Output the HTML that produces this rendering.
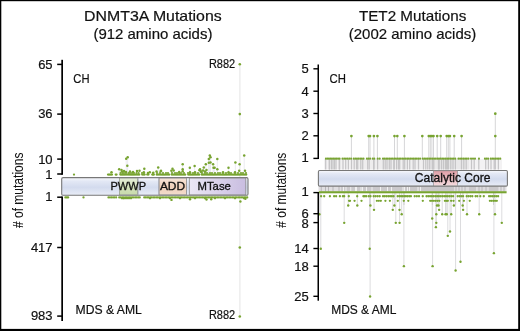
<!DOCTYPE html>
<html><head><meta charset="utf-8"><style>html,body{margin:0;padding:0;background:#fff;overflow:hidden}svg{display:block} text{stroke:#111;stroke-width:0.2px} .dom text{stroke-width:0.32px}</style></head>
<body><svg width="520" height="331" viewBox="0 0 520 331" font-family='"Liberation Sans", sans-serif' fill="#111">
<defs>
<linearGradient id="gb" x1="0" y1="0" x2="0" y2="1">
 <stop offset="0" stop-color="#f9fafd"/><stop offset="0.2" stop-color="#e3e8f5"/>
 <stop offset="0.55" stop-color="#d3dbee"/><stop offset="1" stop-color="#e9edf7"/>
</linearGradient>
<linearGradient id="gg" x1="0" y1="0" x2="0" y2="1">
 <stop offset="0" stop-color="#e6eed9"/><stop offset="0.5" stop-color="#d2e1bb"/><stop offset="1" stop-color="#c9dbac"/>
</linearGradient>
<linearGradient id="go" x1="0" y1="0" x2="0" y2="1">
 <stop offset="0" stop-color="#f7e6da"/><stop offset="0.5" stop-color="#efd0ba"/><stop offset="1" stop-color="#f3dccc"/>
</linearGradient>
<linearGradient id="gw" x1="0" y1="0" x2="0" y2="1">
 <stop offset="0" stop-color="#fbfcfe"/><stop offset="0.5" stop-color="#e6ebf6"/><stop offset="1" stop-color="#eef1f9"/>
</linearGradient>
<linearGradient id="gp" x1="0" y1="0" x2="1" y2="0">
 <stop offset="0" stop-color="#ebe7f5"/><stop offset="1" stop-color="#c9bde0"/>
</linearGradient>
<linearGradient id="gr" x1="0" y1="0" x2="0" y2="1">
 <stop offset="0" stop-color="#df9fa6"/><stop offset="0.45" stop-color="#eab9be"/><stop offset="1" stop-color="#f4dcdf"/>
</linearGradient>
</defs>
<rect x="0" y="0" width="520" height="331" fill="#fff"/>
<g><line x1="239.8" y1="64.3" x2="239.8" y2="316.5" stroke="#efefef" stroke-width="1.7"/><line x1="127.7" y1="157.3" x2="127.7" y2="174.6" stroke="#e9e9ef" stroke-width="0.9"/><line x1="126.2" y1="158.8" x2="126.2" y2="174.6" stroke="#e9e9ef" stroke-width="0.9"/><line x1="127.3" y1="165.8" x2="127.3" y2="174.6" stroke="#e9e9ef" stroke-width="0.9"/><line x1="119.2" y1="169.2" x2="119.2" y2="174.6" stroke="#e9e9ef" stroke-width="0.9"/><line x1="121.5" y1="170" x2="121.5" y2="174.6" stroke="#e9e9ef" stroke-width="0.9"/><line x1="144.3" y1="168.8" x2="144.3" y2="174.6" stroke="#e9e9ef" stroke-width="0.9"/><line x1="158.2" y1="167.5" x2="158.2" y2="174.6" stroke="#e9e9ef" stroke-width="0.9"/><line x1="139.5" y1="170.8" x2="139.5" y2="174.6" stroke="#e9e9ef" stroke-width="0.9"/><line x1="161" y1="170.8" x2="161" y2="174.6" stroke="#e9e9ef" stroke-width="0.9"/><line x1="172.5" y1="168.8" x2="172.5" y2="174.6" stroke="#e9e9ef" stroke-width="0.9"/><line x1="171.4" y1="170.8" x2="171.4" y2="174.6" stroke="#e9e9ef" stroke-width="0.9"/><line x1="173.7" y1="170.4" x2="173.7" y2="174.6" stroke="#e9e9ef" stroke-width="0.9"/><line x1="182.7" y1="164.2" x2="182.7" y2="174.6" stroke="#e9e9ef" stroke-width="0.9"/><line x1="182.7" y1="169.2" x2="182.7" y2="174.6" stroke="#e9e9ef" stroke-width="0.9"/><line x1="189.8" y1="167.7" x2="189.8" y2="174.6" stroke="#e9e9ef" stroke-width="0.9"/><line x1="194.6" y1="165.9" x2="194.6" y2="174.6" stroke="#e9e9ef" stroke-width="0.9"/><line x1="200" y1="169.2" x2="200" y2="174.6" stroke="#e9e9ef" stroke-width="0.9"/><line x1="203.8" y1="167.5" x2="203.8" y2="174.6" stroke="#e9e9ef" stroke-width="0.9"/><line x1="205.8" y1="164.2" x2="205.8" y2="174.6" stroke="#e9e9ef" stroke-width="0.9"/><line x1="208.8" y1="162.7" x2="208.8" y2="174.6" stroke="#e9e9ef" stroke-width="0.9"/><line x1="208.8" y1="159.1" x2="208.8" y2="174.6" stroke="#e9e9ef" stroke-width="0.9"/><line x1="209.8" y1="155.6" x2="209.8" y2="174.6" stroke="#e9e9ef" stroke-width="0.9"/><line x1="210.5" y1="157.2" x2="210.5" y2="174.6" stroke="#e9e9ef" stroke-width="0.9"/><line x1="210.5" y1="162.5" x2="210.5" y2="174.6" stroke="#e9e9ef" stroke-width="0.9"/><line x1="213.1" y1="164.2" x2="213.1" y2="174.6" stroke="#e9e9ef" stroke-width="0.9"/><line x1="213.5" y1="167.7" x2="213.5" y2="174.6" stroke="#e9e9ef" stroke-width="0.9"/><line x1="214.6" y1="167.7" x2="214.6" y2="174.6" stroke="#e9e9ef" stroke-width="0.9"/><line x1="217.3" y1="159.1" x2="217.3" y2="174.6" stroke="#e9e9ef" stroke-width="0.9"/><line x1="217.3" y1="169.2" x2="217.3" y2="174.6" stroke="#e9e9ef" stroke-width="0.9"/><line x1="228.5" y1="167.7" x2="228.5" y2="174.6" stroke="#e9e9ef" stroke-width="0.9"/><line x1="235.4" y1="162.5" x2="235.4" y2="174.6" stroke="#e9e9ef" stroke-width="0.9"/><line x1="239.6" y1="164.2" x2="239.6" y2="174.6" stroke="#e9e9ef" stroke-width="0.9"/><line x1="244.2" y1="155.6" x2="244.2" y2="174.6" stroke="#e9e9ef" stroke-width="0.9"/><line x1="239.2" y1="170.8" x2="239.2" y2="174.6" stroke="#e9e9ef" stroke-width="0.9"/><line x1="245" y1="170.8" x2="245" y2="174.6" stroke="#e9e9ef" stroke-width="0.9"/><line x1="199.5" y1="170.2" x2="199.5" y2="174.6" stroke="#e9e9ef" stroke-width="0.9"/><line x1="203" y1="170.5" x2="203" y2="174.6" stroke="#e9e9ef" stroke-width="0.9"/><line x1="206.5" y1="170" x2="206.5" y2="174.6" stroke="#e9e9ef" stroke-width="0.9"/><rect x="324" y="159" width="33" height="10.5" fill="#f3f2f3"/><rect x="357" y="159" width="43" height="10.5" fill="#eeedee"/><rect x="400" y="159" width="30" height="10.5" fill="#f1f0f1"/><rect x="430" y="159" width="39" height="10.5" fill="#e9e8e9"/><rect x="469" y="159" width="33" height="10.5" fill="#f3f2f3"/><line x1="325.7" y1="159" x2="325.7" y2="169.5" stroke="#c6c5c7" stroke-width="1.25"/><line x1="329.2" y1="159" x2="329.2" y2="169.5" stroke="#c6c5c7" stroke-width="1.25"/><line x1="329.6" y1="159" x2="329.6" y2="169.5" stroke="#c6c5c7" stroke-width="1.25"/><line x1="331.5" y1="159" x2="331.5" y2="169.5" stroke="#c6c5c7" stroke-width="1.25"/><line x1="333" y1="159" x2="333" y2="169.5" stroke="#c6c5c7" stroke-width="1.25"/><line x1="334.5" y1="159" x2="334.5" y2="169.5" stroke="#c6c5c7" stroke-width="1.25"/><line x1="336" y1="159" x2="336" y2="169.5" stroke="#c6c5c7" stroke-width="1.25"/><line x1="339.2" y1="159" x2="339.2" y2="169.5" stroke="#c6c5c7" stroke-width="1.25"/><line x1="339.6" y1="159" x2="339.6" y2="169.5" stroke="#c6c5c7" stroke-width="1.25"/><line x1="343" y1="159" x2="343" y2="169.5" stroke="#c6c5c7" stroke-width="1.25"/><line x1="345.7" y1="159" x2="345.7" y2="169.5" stroke="#c6c5c7" stroke-width="1.25"/><line x1="348.4" y1="159" x2="348.4" y2="169.5" stroke="#c6c5c7" stroke-width="1.25"/><line x1="351.5" y1="159" x2="351.5" y2="169.5" stroke="#c6c5c7" stroke-width="1.25"/><line x1="354.2" y1="159" x2="354.2" y2="169.5" stroke="#c6c5c7" stroke-width="1.25"/><line x1="356.5" y1="159" x2="356.5" y2="169.5" stroke="#c6c5c7" stroke-width="1.25"/><line x1="357.7" y1="159" x2="357.7" y2="169.5" stroke="#c6c5c7" stroke-width="1.25"/><line x1="360.8" y1="159" x2="360.8" y2="169.5" stroke="#c6c5c7" stroke-width="1.25"/><line x1="362.7" y1="159" x2="362.7" y2="169.5" stroke="#c6c5c7" stroke-width="1.25"/><line x1="367.7" y1="159" x2="367.7" y2="169.5" stroke="#c6c5c7" stroke-width="1.25"/><line x1="369.2" y1="159" x2="369.2" y2="169.5" stroke="#c6c5c7" stroke-width="1.25"/><line x1="373.6" y1="159" x2="373.6" y2="169.5" stroke="#c6c5c7" stroke-width="1.25"/><line x1="374" y1="159" x2="374" y2="169.5" stroke="#c6c5c7" stroke-width="1.25"/><line x1="377.6" y1="159" x2="377.6" y2="169.5" stroke="#c6c5c7" stroke-width="1.25"/><line x1="383.3" y1="159" x2="383.3" y2="169.5" stroke="#c6c5c7" stroke-width="1.25"/><line x1="385.2" y1="159" x2="385.2" y2="169.5" stroke="#c6c5c7" stroke-width="1.25"/><line x1="387" y1="159" x2="387" y2="169.5" stroke="#c6c5c7" stroke-width="1.25"/><line x1="389.3" y1="159" x2="389.3" y2="169.5" stroke="#c6c5c7" stroke-width="1.25"/><line x1="391" y1="159" x2="391" y2="169.5" stroke="#c6c5c7" stroke-width="1.25"/><line x1="393.8" y1="159" x2="393.8" y2="169.5" stroke="#c6c5c7" stroke-width="1.25"/><line x1="394.3" y1="159" x2="394.3" y2="169.5" stroke="#c6c5c7" stroke-width="1.25"/><line x1="396.6" y1="159" x2="396.6" y2="169.5" stroke="#c6c5c7" stroke-width="1.25"/><line x1="398.5" y1="159" x2="398.5" y2="169.5" stroke="#c6c5c7" stroke-width="1.25"/><line x1="399.7" y1="159" x2="399.7" y2="169.5" stroke="#c6c5c7" stroke-width="1.25"/><line x1="403.2" y1="159" x2="403.2" y2="169.5" stroke="#c6c5c7" stroke-width="1.25"/><line x1="404.7" y1="159" x2="404.7" y2="169.5" stroke="#c6c5c7" stroke-width="1.25"/><line x1="407.4" y1="159" x2="407.4" y2="169.5" stroke="#c6c5c7" stroke-width="1.25"/><line x1="409.7" y1="159" x2="409.7" y2="169.5" stroke="#c6c5c7" stroke-width="1.25"/><line x1="413.2" y1="159" x2="413.2" y2="169.5" stroke="#c6c5c7" stroke-width="1.25"/><line x1="415" y1="159" x2="415" y2="169.5" stroke="#c6c5c7" stroke-width="1.25"/><line x1="418.5" y1="159" x2="418.5" y2="169.5" stroke="#c6c5c7" stroke-width="1.25"/><line x1="423.5" y1="159" x2="423.5" y2="169.5" stroke="#c6c5c7" stroke-width="1.25"/><line x1="425.8" y1="159" x2="425.8" y2="169.5" stroke="#c6c5c7" stroke-width="1.25"/><line x1="427.8" y1="159" x2="427.8" y2="169.5" stroke="#c6c5c7" stroke-width="1.25"/><line x1="429.7" y1="159" x2="429.7" y2="169.5" stroke="#c6c5c7" stroke-width="1.25"/><line x1="432.3" y1="159" x2="432.3" y2="169.5" stroke="#c6c5c7" stroke-width="1.25"/><line x1="433" y1="159" x2="433" y2="169.5" stroke="#c6c5c7" stroke-width="1.25"/><line x1="433.8" y1="159" x2="433.8" y2="169.5" stroke="#c6c5c7" stroke-width="1.25"/><line x1="438.5" y1="159" x2="438.5" y2="169.5" stroke="#c6c5c7" stroke-width="1.25"/><line x1="439.2" y1="159" x2="439.2" y2="169.5" stroke="#c6c5c7" stroke-width="1.25"/><line x1="441.5" y1="159" x2="441.5" y2="169.5" stroke="#c6c5c7" stroke-width="1.25"/><line x1="443.5" y1="159" x2="443.5" y2="169.5" stroke="#c6c5c7" stroke-width="1.25"/><line x1="445.5" y1="159" x2="445.5" y2="169.5" stroke="#c6c5c7" stroke-width="1.25"/><line x1="446.5" y1="159" x2="446.5" y2="169.5" stroke="#c6c5c7" stroke-width="1.25"/><line x1="447.5" y1="159" x2="447.5" y2="169.5" stroke="#c6c5c7" stroke-width="1.25"/><line x1="448.5" y1="159" x2="448.5" y2="169.5" stroke="#c6c5c7" stroke-width="1.25"/><line x1="450.8" y1="159" x2="450.8" y2="169.5" stroke="#c6c5c7" stroke-width="1.25"/><line x1="453" y1="159" x2="453" y2="169.5" stroke="#c6c5c7" stroke-width="1.25"/><line x1="455.4" y1="159" x2="455.4" y2="169.5" stroke="#c6c5c7" stroke-width="1.25"/><line x1="461.5" y1="159" x2="461.5" y2="169.5" stroke="#c6c5c7" stroke-width="1.25"/><line x1="463.8" y1="159" x2="463.8" y2="169.5" stroke="#c6c5c7" stroke-width="1.25"/><line x1="466.2" y1="159" x2="466.2" y2="169.5" stroke="#c6c5c7" stroke-width="1.25"/><line x1="471.5" y1="159" x2="471.5" y2="169.5" stroke="#c6c5c7" stroke-width="1.25"/><line x1="474.2" y1="159" x2="474.2" y2="169.5" stroke="#c6c5c7" stroke-width="1.25"/><line x1="478.8" y1="159" x2="478.8" y2="169.5" stroke="#c6c5c7" stroke-width="1.25"/><line x1="485.7" y1="159" x2="485.7" y2="169.5" stroke="#c6c5c7" stroke-width="1.25"/><line x1="488.4" y1="159" x2="488.4" y2="169.5" stroke="#c6c5c7" stroke-width="1.25"/><line x1="491" y1="159" x2="491" y2="169.5" stroke="#c6c5c7" stroke-width="1.25"/><line x1="494.2" y1="159" x2="494.2" y2="169.5" stroke="#c6c5c7" stroke-width="1.25"/><line x1="495.3" y1="159" x2="495.3" y2="169.5" stroke="#c6c5c7" stroke-width="1.25"/><line x1="498.4" y1="159" x2="498.4" y2="169.5" stroke="#c6c5c7" stroke-width="1.25"/><line x1="351.4" y1="136.1" x2="351.4" y2="159" stroke="#d6d6d8" stroke-width="1"/><line x1="368.7" y1="136.1" x2="368.7" y2="159" stroke="#d6d6d8" stroke-width="1"/><line x1="370" y1="136.1" x2="370" y2="159" stroke="#d6d6d8" stroke-width="1"/><line x1="373.9" y1="136.1" x2="373.9" y2="159" stroke="#d6d6d8" stroke-width="1"/><line x1="377.4" y1="136.1" x2="377.4" y2="159" stroke="#d6d6d8" stroke-width="1"/><line x1="394.5" y1="136.1" x2="394.5" y2="159" stroke="#d6d6d8" stroke-width="1"/><line x1="397.3" y1="136.1" x2="397.3" y2="159" stroke="#d6d6d8" stroke-width="1"/><line x1="404.4" y1="136.1" x2="404.4" y2="159" stroke="#d6d6d8" stroke-width="1"/><line x1="422.3" y1="136.1" x2="422.3" y2="159" stroke="#d6d6d8" stroke-width="1"/><line x1="428.8" y1="136.1" x2="428.8" y2="159" stroke="#d6d6d8" stroke-width="1"/><line x1="430.3" y1="136.1" x2="430.3" y2="159" stroke="#d6d6d8" stroke-width="1"/><line x1="431.9" y1="136.1" x2="431.9" y2="159" stroke="#d6d6d8" stroke-width="1"/><line x1="433.5" y1="136.1" x2="433.5" y2="159" stroke="#d6d6d8" stroke-width="1"/><line x1="437.2" y1="136.1" x2="437.2" y2="159" stroke="#d6d6d8" stroke-width="1"/><line x1="440.7" y1="136.1" x2="440.7" y2="159" stroke="#d6d6d8" stroke-width="1"/><line x1="446.7" y1="136.1" x2="446.7" y2="159" stroke="#d6d6d8" stroke-width="1"/><line x1="448.3" y1="136.1" x2="448.3" y2="159" stroke="#d6d6d8" stroke-width="1"/><line x1="449.9" y1="136.1" x2="449.9" y2="159" stroke="#d6d6d8" stroke-width="1"/><line x1="454.2" y1="136.1" x2="454.2" y2="159" stroke="#d6d6d8" stroke-width="1"/><line x1="461.6" y1="136.1" x2="461.6" y2="159" stroke="#d6d6d8" stroke-width="1"/><line x1="495.3" y1="136.1" x2="495.3" y2="159" stroke="#d6d6d8" stroke-width="1"/><line x1="495.3" y1="113.65" x2="495.3" y2="136.1" stroke="#d6d6d8" stroke-width="1"/><rect x="318.5" y="186.4" width="25.5" height="4.900000000000006" fill="#e0dee1"/><rect x="344" y="186.4" width="56" height="4.900000000000006" fill="#cbc9cc"/><rect x="400" y="186.4" width="32" height="4.900000000000006" fill="#c9c7ca"/><rect x="432" y="186.4" width="22" height="4.900000000000006" fill="#c8c6c9"/><rect x="454" y="186.4" width="14.5" height="4.900000000000006" fill="#dddbde"/><rect x="468.5" y="186.4" width="8.0" height="4.900000000000006" fill="#cac8cb"/><rect x="476.5" y="186.4" width="11.899999999999977" height="4.900000000000006" fill="#dddbde"/><rect x="488.4" y="186.4" width="10.400000000000034" height="4.900000000000006" fill="#cac8cb"/><rect x="498.8" y="186.4" width="7.699999999999989" height="4.900000000000006" fill="#e2e0e3"/><line x1="321.25" y1="186.4" x2="321.25" y2="191.3" stroke="#b8b6b9" stroke-width="1"/><line x1="325.5" y1="186.4" x2="325.5" y2="191.3" stroke="#b8b6b9" stroke-width="1"/><line x1="328.5" y1="186.4" x2="328.5" y2="191.3" stroke="#b8b6b9" stroke-width="1"/><line x1="333" y1="186.4" x2="333" y2="191.3" stroke="#b8b6b9" stroke-width="1"/><line x1="339" y1="186.4" x2="339" y2="191.3" stroke="#b8b6b9" stroke-width="1"/><line x1="342" y1="186.4" x2="342" y2="191.3" stroke="#b8b6b9" stroke-width="1"/><line x1="456" y1="186.4" x2="456" y2="191.3" stroke="#b8b6b9" stroke-width="1"/><line x1="459" y1="186.4" x2="459" y2="191.3" stroke="#b8b6b9" stroke-width="1"/><line x1="462" y1="186.4" x2="462" y2="191.3" stroke="#b8b6b9" stroke-width="1"/><line x1="465" y1="186.4" x2="465" y2="191.3" stroke="#b8b6b9" stroke-width="1"/><line x1="479" y1="186.4" x2="479" y2="191.3" stroke="#b8b6b9" stroke-width="1"/><line x1="482" y1="186.4" x2="482" y2="191.3" stroke="#b8b6b9" stroke-width="1"/><line x1="486" y1="186.4" x2="486" y2="191.3" stroke="#b8b6b9" stroke-width="1"/><line x1="501" y1="186.4" x2="501" y2="191.3" stroke="#b8b6b9" stroke-width="1"/><line x1="504" y1="186.4" x2="504" y2="191.3" stroke="#b8b6b9" stroke-width="1"/><line x1="343.5" y1="186.4" x2="343.5" y2="191.3" stroke="#f4f4f4" stroke-width="0.9"/><line x1="346" y1="186.4" x2="346" y2="191.3" stroke="#f4f4f4" stroke-width="0.9"/><line x1="350.75" y1="186.4" x2="350.75" y2="191.3" stroke="#f4f4f4" stroke-width="0.9"/><line x1="355.5" y1="186.4" x2="355.5" y2="191.3" stroke="#f4f4f4" stroke-width="0.9"/><line x1="356.5" y1="186.4" x2="356.5" y2="191.3" stroke="#f4f4f4" stroke-width="0.9"/><line x1="361" y1="186.4" x2="361" y2="191.3" stroke="#f4f4f4" stroke-width="0.9"/><line x1="362.5" y1="186.4" x2="362.5" y2="191.3" stroke="#f4f4f4" stroke-width="0.9"/><line x1="366.5" y1="186.4" x2="366.5" y2="191.3" stroke="#f4f4f4" stroke-width="0.9"/><line x1="372" y1="186.4" x2="372" y2="191.3" stroke="#f4f4f4" stroke-width="0.9"/><line x1="380.5" y1="186.4" x2="380.5" y2="191.3" stroke="#f4f4f4" stroke-width="0.9"/><line x1="387.5" y1="186.4" x2="387.5" y2="191.3" stroke="#f4f4f4" stroke-width="0.9"/><line x1="391.5" y1="186.4" x2="391.5" y2="191.3" stroke="#f4f4f4" stroke-width="0.9"/><line x1="403" y1="186.4" x2="403" y2="191.3" stroke="#f4f4f4" stroke-width="0.9"/><line x1="404.5" y1="186.4" x2="404.5" y2="191.3" stroke="#f4f4f4" stroke-width="0.9"/><line x1="407.5" y1="186.4" x2="407.5" y2="191.3" stroke="#f4f4f4" stroke-width="0.9"/><line x1="409.5" y1="186.4" x2="409.5" y2="191.3" stroke="#f4f4f4" stroke-width="0.9"/><line x1="418" y1="186.4" x2="418" y2="191.3" stroke="#f4f4f4" stroke-width="0.9"/><line x1="420.5" y1="186.4" x2="420.5" y2="191.3" stroke="#f4f4f4" stroke-width="0.9"/><line x1="348.2" y1="193" x2="348.2" y2="205.51999999999998" stroke="#dcdcde" stroke-width="1"/><line x1="357.3" y1="193" x2="357.3" y2="205.51999999999998" stroke="#dcdcde" stroke-width="1"/><line x1="370.4" y1="193" x2="370.4" y2="205.51999999999998" stroke="#dcdcde" stroke-width="1"/><line x1="394.4" y1="193" x2="394.4" y2="205.51999999999998" stroke="#dcdcde" stroke-width="1"/><line x1="437" y1="193" x2="437" y2="205.51999999999998" stroke="#dcdcde" stroke-width="1"/><line x1="438.5" y1="193" x2="438.5" y2="205.51999999999998" stroke="#dcdcde" stroke-width="1"/><line x1="453.9" y1="193" x2="453.9" y2="205.51999999999998" stroke="#dcdcde" stroke-width="1"/><line x1="462.7" y1="193" x2="462.7" y2="205.51999999999998" stroke="#dcdcde" stroke-width="1"/><line x1="374" y1="193" x2="374" y2="209.85" stroke="#dcdcde" stroke-width="1"/><line x1="392.8" y1="193" x2="392.8" y2="209.85" stroke="#dcdcde" stroke-width="1"/><line x1="399.5" y1="193" x2="399.5" y2="209.85" stroke="#dcdcde" stroke-width="1"/><line x1="439.1" y1="193" x2="439.1" y2="209.85" stroke="#dcdcde" stroke-width="1"/><line x1="463.1" y1="193" x2="463.1" y2="209.85" stroke="#dcdcde" stroke-width="1"/><line x1="319.4" y1="193" x2="319.4" y2="214.17999999999998" stroke="#dcdcde" stroke-width="1"/><line x1="401.7" y1="193" x2="401.7" y2="214.17999999999998" stroke="#dcdcde" stroke-width="1"/><line x1="436.3" y1="193" x2="436.3" y2="214.17999999999998" stroke="#dcdcde" stroke-width="1"/><line x1="442.2" y1="193" x2="442.2" y2="214.17999999999998" stroke="#dcdcde" stroke-width="1"/><line x1="445.5" y1="193" x2="445.5" y2="214.17999999999998" stroke="#dcdcde" stroke-width="1"/><line x1="446.8" y1="193" x2="446.8" y2="214.17999999999998" stroke="#dcdcde" stroke-width="1"/><line x1="451.2" y1="193" x2="451.2" y2="214.17999999999998" stroke="#dcdcde" stroke-width="1"/><line x1="467" y1="193" x2="467" y2="214.17999999999998" stroke="#dcdcde" stroke-width="1"/><line x1="479.2" y1="193" x2="479.2" y2="214.17999999999998" stroke="#dcdcde" stroke-width="1"/><line x1="495" y1="193" x2="495" y2="214.17999999999998" stroke="#dcdcde" stroke-width="1"/><line x1="432.2" y1="193" x2="432.2" y2="218.51" stroke="#dcdcde" stroke-width="1"/><line x1="344.2" y1="193" x2="344.2" y2="222.83999999999997" stroke="#dcdcde" stroke-width="1"/><line x1="395.8" y1="193" x2="395.8" y2="222.83999999999997" stroke="#dcdcde" stroke-width="1"/><line x1="399.6" y1="193" x2="399.6" y2="222.83999999999997" stroke="#dcdcde" stroke-width="1"/><line x1="436.3" y1="193" x2="436.3" y2="222.83999999999997" stroke="#dcdcde" stroke-width="1"/><line x1="501.8" y1="193" x2="501.8" y2="222.83999999999997" stroke="#dcdcde" stroke-width="1"/><line x1="435.9" y1="193" x2="435.9" y2="227.17" stroke="#dcdcde" stroke-width="1"/><line x1="450" y1="193" x2="450" y2="231.5" stroke="#dcdcde" stroke-width="1"/><line x1="447.8" y1="193" x2="447.8" y2="235.82999999999998" stroke="#dcdcde" stroke-width="1"/><line x1="320.8" y1="193" x2="320.8" y2="248.82" stroke="#dcdcde" stroke-width="1"/><line x1="369.7" y1="193" x2="369.7" y2="248.82" stroke="#dcdcde" stroke-width="1"/><line x1="493.9" y1="193" x2="493.9" y2="253.14999999999998" stroke="#dcdcde" stroke-width="1"/><line x1="460.5" y1="193" x2="460.5" y2="261.81" stroke="#dcdcde" stroke-width="1"/><line x1="403.9" y1="193" x2="403.9" y2="266.14" stroke="#dcdcde" stroke-width="1"/><line x1="432.6" y1="193" x2="432.6" y2="266.14" stroke="#dcdcde" stroke-width="1"/><line x1="455.6" y1="193" x2="455.6" y2="270.46999999999997" stroke="#dcdcde" stroke-width="1"/><line x1="370.1" y1="193" x2="370.1" y2="296.45" stroke="#dcdcde" stroke-width="1"/><line x1="369.9" y1="193" x2="369.9" y2="205" stroke="#cfcfd1" stroke-width="1"/><line x1="404.0" y1="193" x2="404.0" y2="205" stroke="#cfcfd1" stroke-width="1"/><line x1="432.4" y1="193" x2="432.4" y2="205" stroke="#cfcfd1" stroke-width="1"/><line x1="455.6" y1="193" x2="455.6" y2="205" stroke="#cfcfd1" stroke-width="1"/><line x1="460.5" y1="193" x2="460.5" y2="205" stroke="#cfcfd1" stroke-width="1"/><line x1="493.5" y1="193" x2="493.5" y2="205" stroke="#cfcfd1" stroke-width="1"/><rect x="318.8" y="191.2" width="187.8" height="2.1" fill="#78a431"/></g>
<g><rect x="61.7" y="177.6" width="186.3" height="17.7" rx="1.4" fill="url(#gb)" stroke="#777" stroke-width="1.1"/><rect x="119.4" y="178.1" width="18.2" height="16.7" fill="url(#gg)" stroke="#8e968a" stroke-width="0.7"/><rect x="138.2" y="178.1" width="20.6" height="16.7" fill="url(#gb)" stroke="#a2a4b2" stroke-width="0.6"/><rect x="159.1" y="178.1" width="27.4" height="16.7" fill="url(#go)" stroke="#8a8a8a" stroke-width="0.8"/><rect x="189.3" y="178.1" width="56.5" height="16.7" fill="url(#gp)" stroke="#8a8a8a" stroke-width="0.8"/><rect x="318.4" y="170.5" width="189" height="15.6" rx="1.2" fill="url(#gb)" stroke="#777" stroke-width="1.1"/><rect x="433.6" y="170.8" width="23.8" height="15" fill="url(#gr)" stroke="#909090" stroke-width="0.7"/></g>
<g fill="#111" class="dom" style="filter:grayscale(1)"><text x="110.5" y="189.9" font-size="11.4" textLength="35.6" lengthAdjust="spacingAndGlyphs">PWWP</text><text x="159.9" y="190.3" font-size="11.4" textLength="25.2" lengthAdjust="spacingAndGlyphs">ADD</text><text x="197.5" y="190.4" font-size="11.4" textLength="33.4" lengthAdjust="spacingAndGlyphs">MTase</text><text x="414.8" y="181.8" font-size="12.3" textLength="75.6" lengthAdjust="spacingAndGlyphs">Catalytic Core</text></g>
<g fill="#78a431"><circle cx="239.8" cy="64.3" r="1.3"/><circle cx="239.8" cy="114.1" r="1.3"/><circle cx="239.8" cy="247.5" r="1.3"/><circle cx="239.8" cy="316.5" r="1.3"/><circle cx="74" cy="174.6" r="1.15"/><circle cx="108.0" cy="174.6" r="1.1"/><circle cx="109.0" cy="174.6" r="1.1"/><circle cx="110.0" cy="174.6" r="1.1"/><circle cx="111.0" cy="174.6" r="1.1"/><circle cx="112.0" cy="174.6" r="1.1"/><circle cx="115.7" cy="174.6" r="1.1"/><circle cx="116.6" cy="174.6" r="1.1"/><circle cx="120.3" cy="174.6" r="1.1"/><circle cx="121.42" cy="174.6" r="1.1"/><circle cx="122.54" cy="174.6" r="1.1"/><circle cx="123.65" cy="174.6" r="1.1"/><circle cx="124.77" cy="174.6" r="1.1"/><circle cx="125.89" cy="174.6" r="1.1"/><circle cx="127.01" cy="174.6" r="1.1"/><circle cx="128.12" cy="174.6" r="1.1"/><circle cx="129.24" cy="174.6" r="1.1"/><circle cx="130.36" cy="174.6" r="1.1"/><circle cx="131.48" cy="174.6" r="1.1"/><circle cx="132.59" cy="174.6" r="1.1"/><circle cx="133.71" cy="174.6" r="1.1"/><circle cx="134.83" cy="174.6" r="1.1"/><circle cx="135.95" cy="174.6" r="1.1"/><circle cx="137.06" cy="174.6" r="1.1"/><circle cx="138.18" cy="174.6" r="1.1"/><circle cx="139.3" cy="174.6" r="1.1"/><circle cx="142.2" cy="174.6" r="1.1"/><circle cx="143.45" cy="174.6" r="1.1"/><circle cx="144.7" cy="174.6" r="1.1"/><circle cx="147.2" cy="174.6" r="1.1"/><circle cx="148.5" cy="174.6" r="1.1"/><circle cx="152.2" cy="174.6" r="1.1"/><circle cx="153.05" cy="174.6" r="1.1"/><circle cx="153.9" cy="174.6" r="1.1"/><circle cx="156.7" cy="174.6" r="1.1"/><circle cx="157.85" cy="174.6" r="1.1"/><circle cx="158.99" cy="174.6" r="1.1"/><circle cx="160.14" cy="174.6" r="1.1"/><circle cx="161.28" cy="174.6" r="1.1"/><circle cx="162.43" cy="174.6" r="1.1"/><circle cx="163.57" cy="174.6" r="1.1"/><circle cx="164.72" cy="174.6" r="1.1"/><circle cx="165.86" cy="174.6" r="1.1"/><circle cx="167.01" cy="174.6" r="1.1"/><circle cx="168.15" cy="174.6" r="1.1"/><circle cx="169.3" cy="174.6" r="1.1"/><circle cx="171.7" cy="174.6" r="1.1"/><circle cx="172.83" cy="174.6" r="1.1"/><circle cx="173.97" cy="174.6" r="1.1"/><circle cx="175.1" cy="174.6" r="1.1"/><circle cx="176.23" cy="174.6" r="1.1"/><circle cx="177.37" cy="174.6" r="1.1"/><circle cx="178.5" cy="174.6" r="1.1"/><circle cx="179.63" cy="174.6" r="1.1"/><circle cx="180.77" cy="174.6" r="1.1"/><circle cx="181.9" cy="174.6" r="1.1"/><circle cx="183.03" cy="174.6" r="1.1"/><circle cx="184.17" cy="174.6" r="1.1"/><circle cx="185.3" cy="174.6" r="1.1"/><circle cx="188.2" cy="174.6" r="1.1"/><circle cx="189.31" cy="174.6" r="1.1"/><circle cx="190.42" cy="174.6" r="1.1"/><circle cx="191.53" cy="174.6" r="1.1"/><circle cx="192.64" cy="174.6" r="1.1"/><circle cx="193.75" cy="174.6" r="1.1"/><circle cx="194.86" cy="174.6" r="1.1"/><circle cx="195.97" cy="174.6" r="1.1"/><circle cx="197.08" cy="174.6" r="1.1"/><circle cx="198.19" cy="174.6" r="1.1"/><circle cx="199.3" cy="174.6" r="1.1"/><circle cx="201.7" cy="174.6" r="1.1"/><circle cx="202.79" cy="174.6" r="1.1"/><circle cx="203.88" cy="174.6" r="1.1"/><circle cx="204.96" cy="174.6" r="1.1"/><circle cx="206.05" cy="174.6" r="1.1"/><circle cx="207.14" cy="174.6" r="1.1"/><circle cx="208.23" cy="174.6" r="1.1"/><circle cx="209.31" cy="174.6" r="1.1"/><circle cx="210.4" cy="174.6" r="1.1"/><circle cx="211.49" cy="174.6" r="1.1"/><circle cx="212.58" cy="174.6" r="1.1"/><circle cx="213.67" cy="174.6" r="1.1"/><circle cx="214.75" cy="174.6" r="1.1"/><circle cx="215.84" cy="174.6" r="1.1"/><circle cx="216.93" cy="174.6" r="1.1"/><circle cx="218.02" cy="174.6" r="1.1"/><circle cx="219.1" cy="174.6" r="1.1"/><circle cx="220.19" cy="174.6" r="1.1"/><circle cx="221.28" cy="174.6" r="1.1"/><circle cx="222.37" cy="174.6" r="1.1"/><circle cx="223.46" cy="174.6" r="1.1"/><circle cx="224.54" cy="174.6" r="1.1"/><circle cx="225.63" cy="174.6" r="1.1"/><circle cx="226.72" cy="174.6" r="1.1"/><circle cx="227.81" cy="174.6" r="1.1"/><circle cx="228.9" cy="174.6" r="1.1"/><circle cx="229.98" cy="174.6" r="1.1"/><circle cx="231.07" cy="174.6" r="1.1"/><circle cx="232.16" cy="174.6" r="1.1"/><circle cx="233.25" cy="174.6" r="1.1"/><circle cx="234.33" cy="174.6" r="1.1"/><circle cx="235.42" cy="174.6" r="1.1"/><circle cx="236.51" cy="174.6" r="1.1"/><circle cx="237.6" cy="174.6" r="1.1"/><circle cx="238.69" cy="174.6" r="1.1"/><circle cx="239.77" cy="174.6" r="1.1"/><circle cx="240.86" cy="174.6" r="1.1"/><circle cx="241.95" cy="174.6" r="1.1"/><circle cx="243.04" cy="174.6" r="1.1"/><circle cx="244.12" cy="174.6" r="1.1"/><circle cx="245.21" cy="174.6" r="1.1"/><circle cx="246.3" cy="174.6" r="1.1"/><circle cx="120.5" cy="173.0" r="1.05"/><circle cx="122.5" cy="173.0" r="1.05"/><circle cx="124" cy="173.0" r="1.05"/><circle cx="126" cy="173.0" r="1.05"/><circle cx="128.5" cy="173.0" r="1.05"/><circle cx="130" cy="173.0" r="1.05"/><circle cx="132" cy="173.0" r="1.05"/><circle cx="134" cy="173.0" r="1.05"/><circle cx="136.5" cy="173.0" r="1.05"/><circle cx="138.5" cy="173.0" r="1.05"/><circle cx="142" cy="173.0" r="1.05"/><circle cx="144" cy="173.0" r="1.05"/><circle cx="148" cy="173.0" r="1.05"/><circle cx="153" cy="173.0" r="1.05"/><circle cx="157" cy="173.0" r="1.05"/><circle cx="160" cy="173.0" r="1.05"/><circle cx="163" cy="173.0" r="1.05"/><circle cx="166" cy="173.0" r="1.05"/><circle cx="168" cy="173.0" r="1.05"/><circle cx="172" cy="173.0" r="1.05"/><circle cx="175" cy="173.0" r="1.05"/><circle cx="177" cy="173.0" r="1.05"/><circle cx="179.2" cy="173.0" r="1.05"/><circle cx="181" cy="173.0" r="1.05"/><circle cx="184" cy="173.0" r="1.05"/><circle cx="188" cy="173.0" r="1.05"/><circle cx="190" cy="173.0" r="1.05"/><circle cx="193" cy="173.0" r="1.05"/><circle cx="195" cy="173.0" r="1.05"/><circle cx="198" cy="173.0" r="1.05"/><circle cx="202" cy="173.0" r="1.05"/><circle cx="205" cy="173.0" r="1.05"/><circle cx="207" cy="173.0" r="1.05"/><circle cx="210" cy="173.0" r="1.05"/><circle cx="212" cy="173.0" r="1.05"/><circle cx="215" cy="173.0" r="1.05"/><circle cx="218" cy="173.0" r="1.05"/><circle cx="220" cy="173.0" r="1.05"/><circle cx="223" cy="173.0" r="1.05"/><circle cx="226" cy="173.0" r="1.05"/><circle cx="229" cy="173.0" r="1.05"/><circle cx="231" cy="173.0" r="1.05"/><circle cx="235" cy="173.0" r="1.05"/><circle cx="238" cy="173.0" r="1.05"/><circle cx="241" cy="173.0" r="1.05"/><circle cx="243" cy="173.0" r="1.05"/><circle cx="246" cy="173.0" r="1.05"/><circle cx="127.7" cy="157.3" r="1.25"/><circle cx="126.2" cy="158.8" r="1.25"/><circle cx="127.3" cy="165.8" r="1.25"/><circle cx="119.2" cy="169.2" r="1.25"/><circle cx="121.5" cy="170" r="1.25"/><circle cx="121.9" cy="171.5" r="1.25"/><circle cx="111.5" cy="172.3" r="1.25"/><circle cx="144.3" cy="168.8" r="1.25"/><circle cx="158.2" cy="167.5" r="1.25"/><circle cx="139.5" cy="170.8" r="1.25"/><circle cx="149.8" cy="172.3" r="1.25"/><circle cx="153.3" cy="172.7" r="1.25"/><circle cx="161" cy="170.8" r="1.25"/><circle cx="172.5" cy="168.8" r="1.25"/><circle cx="171.4" cy="170.8" r="1.25"/><circle cx="173.7" cy="170.4" r="1.25"/><circle cx="182.7" cy="164.2" r="1.25"/><circle cx="182.7" cy="169.2" r="1.25"/><circle cx="189.8" cy="167.7" r="1.25"/><circle cx="194.6" cy="165.9" r="1.25"/><circle cx="200" cy="169.2" r="1.25"/><circle cx="203.8" cy="167.5" r="1.25"/><circle cx="205.8" cy="164.2" r="1.25"/><circle cx="208.8" cy="162.7" r="1.25"/><circle cx="208.8" cy="159.1" r="1.25"/><circle cx="209.8" cy="155.6" r="1.25"/><circle cx="210.5" cy="157.2" r="1.25"/><circle cx="210.5" cy="162.5" r="1.25"/><circle cx="213.1" cy="164.2" r="1.25"/><circle cx="213.5" cy="167.7" r="1.25"/><circle cx="214.6" cy="167.7" r="1.25"/><circle cx="217.3" cy="159.1" r="1.25"/><circle cx="217.3" cy="169.2" r="1.25"/><circle cx="228.5" cy="167.7" r="1.25"/><circle cx="235.4" cy="162.5" r="1.25"/><circle cx="239.6" cy="164.2" r="1.25"/><circle cx="244.2" cy="155.6" r="1.25"/><circle cx="239.2" cy="170.8" r="1.25"/><circle cx="245" cy="170.8" r="1.25"/><circle cx="228.5" cy="172.3" r="1.25"/><circle cx="223" cy="172.3" r="1.25"/><circle cx="235" cy="172.3" r="1.25"/><circle cx="143.8" cy="172.3" r="1.25"/><circle cx="148" cy="173" r="1.25"/><circle cx="156.5" cy="171.5" r="1.25"/><circle cx="160.8" cy="171.2" r="1.25"/><circle cx="179.2" cy="171.9" r="1.25"/><circle cx="182.7" cy="171.2" r="1.25"/><circle cx="190" cy="172.3" r="1.25"/><circle cx="195" cy="172.3" r="1.25"/><circle cx="201.2" cy="171.5" r="1.25"/><circle cx="124" cy="171" r="1.25"/><circle cx="126" cy="172" r="1.25"/><circle cx="130" cy="171.5" r="1.25"/><circle cx="133" cy="172" r="1.25"/><circle cx="137" cy="171" r="1.25"/><circle cx="199.5" cy="170.2" r="1.25"/><circle cx="201" cy="171.8" r="1.25"/><circle cx="203" cy="170.5" r="1.25"/><circle cx="205" cy="171.5" r="1.25"/><circle cx="206.5" cy="170" r="1.25"/><circle cx="65.4" cy="197.4" r="1.15"/><circle cx="66.8" cy="197.4" r="1.15"/><circle cx="68.1" cy="197.4" r="1.15"/><circle cx="83.5" cy="197.4" r="1.15"/><circle cx="108.4" cy="197.4" r="1.05"/><circle cx="109.96" cy="197.4" r="1.05"/><circle cx="111.52" cy="197.4" r="1.05"/><circle cx="113.08" cy="197.4" r="1.05"/><circle cx="114.64" cy="197.4" r="1.05"/><circle cx="116.2" cy="197.4" r="1.05"/><circle cx="119.2" cy="197.4" r="1.05"/><circle cx="120.67" cy="197.4" r="1.05"/><circle cx="122.14" cy="197.4" r="1.05"/><circle cx="123.61" cy="197.4" r="1.05"/><circle cx="125.09" cy="197.4" r="1.05"/><circle cx="126.56" cy="197.4" r="1.05"/><circle cx="128.03" cy="197.4" r="1.05"/><circle cx="129.5" cy="197.4" r="1.05"/><circle cx="130.97" cy="197.4" r="1.05"/><circle cx="132.44" cy="197.4" r="1.05"/><circle cx="133.91" cy="197.4" r="1.05"/><circle cx="135.39" cy="197.4" r="1.05"/><circle cx="136.86" cy="197.4" r="1.05"/><circle cx="138.33" cy="197.4" r="1.05"/><circle cx="139.8" cy="197.4" r="1.05"/><circle cx="144.2" cy="197.4" r="1.05"/><circle cx="145.69" cy="197.4" r="1.05"/><circle cx="147.19" cy="197.4" r="1.05"/><circle cx="148.68" cy="197.4" r="1.05"/><circle cx="150.18" cy="197.4" r="1.05"/><circle cx="151.67" cy="197.4" r="1.05"/><circle cx="153.17" cy="197.4" r="1.05"/><circle cx="154.66" cy="197.4" r="1.05"/><circle cx="156.15" cy="197.4" r="1.05"/><circle cx="157.65" cy="197.4" r="1.05"/><circle cx="159.14" cy="197.4" r="1.05"/><circle cx="160.64" cy="197.4" r="1.05"/><circle cx="162.13" cy="197.4" r="1.05"/><circle cx="163.62" cy="197.4" r="1.05"/><circle cx="165.12" cy="197.4" r="1.05"/><circle cx="166.61" cy="197.4" r="1.05"/><circle cx="168.11" cy="197.4" r="1.05"/><circle cx="169.6" cy="197.4" r="1.05"/><circle cx="171.1" cy="197.4" r="1.05"/><circle cx="172.59" cy="197.4" r="1.05"/><circle cx="174.08" cy="197.4" r="1.05"/><circle cx="175.58" cy="197.4" r="1.05"/><circle cx="177.07" cy="197.4" r="1.05"/><circle cx="178.57" cy="197.4" r="1.05"/><circle cx="180.06" cy="197.4" r="1.05"/><circle cx="181.56" cy="197.4" r="1.05"/><circle cx="183.05" cy="197.4" r="1.05"/><circle cx="184.54" cy="197.4" r="1.05"/><circle cx="186.04" cy="197.4" r="1.05"/><circle cx="187.53" cy="197.4" r="1.05"/><circle cx="189.03" cy="197.4" r="1.05"/><circle cx="190.52" cy="197.4" r="1.05"/><circle cx="192.01" cy="197.4" r="1.05"/><circle cx="193.51" cy="197.4" r="1.05"/><circle cx="195.0" cy="197.4" r="1.05"/><circle cx="196.5" cy="197.4" r="1.05"/><circle cx="197.99" cy="197.4" r="1.05"/><circle cx="199.49" cy="197.4" r="1.05"/><circle cx="200.98" cy="197.4" r="1.05"/><circle cx="202.47" cy="197.4" r="1.05"/><circle cx="203.97" cy="197.4" r="1.05"/><circle cx="205.46" cy="197.4" r="1.05"/><circle cx="206.96" cy="197.4" r="1.05"/><circle cx="208.45" cy="197.4" r="1.05"/><circle cx="209.94" cy="197.4" r="1.05"/><circle cx="211.44" cy="197.4" r="1.05"/><circle cx="212.93" cy="197.4" r="1.05"/><circle cx="214.43" cy="197.4" r="1.05"/><circle cx="215.92" cy="197.4" r="1.05"/><circle cx="217.42" cy="197.4" r="1.05"/><circle cx="218.91" cy="197.4" r="1.05"/><circle cx="220.4" cy="197.4" r="1.05"/><circle cx="221.9" cy="197.4" r="1.05"/><circle cx="223.39" cy="197.4" r="1.05"/><circle cx="224.89" cy="197.4" r="1.05"/><circle cx="226.38" cy="197.4" r="1.05"/><circle cx="227.88" cy="197.4" r="1.05"/><circle cx="229.37" cy="197.4" r="1.05"/><circle cx="230.86" cy="197.4" r="1.05"/><circle cx="232.36" cy="197.4" r="1.05"/><circle cx="233.85" cy="197.4" r="1.05"/><circle cx="235.35" cy="197.4" r="1.05"/><circle cx="236.84" cy="197.4" r="1.05"/><circle cx="238.33" cy="197.4" r="1.05"/><circle cx="239.83" cy="197.4" r="1.05"/><circle cx="241.32" cy="197.4" r="1.05"/><circle cx="242.82" cy="197.4" r="1.05"/><circle cx="244.31" cy="197.4" r="1.05"/><circle cx="245.81" cy="197.4" r="1.05"/><circle cx="247.3" cy="197.4" r="1.05"/><circle cx="122" cy="198.3" r="1.1"/><circle cx="123.5" cy="198.3" r="1.1"/><circle cx="125" cy="198.3" r="1.1"/><circle cx="127" cy="198.3" r="1.1"/><circle cx="129" cy="198.3" r="1.1"/><circle cx="131" cy="198.3" r="1.1"/><circle cx="150" cy="198.3" r="1.1"/><circle cx="160" cy="198.3" r="1.1"/><circle cx="170" cy="198.3" r="1.1"/><circle cx="180" cy="198.3" r="1.1"/><circle cx="195" cy="198.3" r="1.1"/><circle cx="205" cy="198.3" r="1.1"/><circle cx="215" cy="198.3" r="1.1"/><circle cx="225" cy="198.3" r="1.1"/><circle cx="235" cy="198.3" r="1.1"/><circle cx="244" cy="198.3" r="1.1"/><circle cx="171.5" cy="199.9" r="1.2"/><circle cx="190" cy="199.2" r="1.2"/><circle cx="206.5" cy="199.5" r="1.2"/><circle cx="211.2" cy="199.2" r="1.2"/><circle cx="240.4" cy="201.5" r="1.2"/><circle cx="245.4" cy="198.8" r="1.2"/><circle cx="325.9" cy="158.65" r="1.05"/><circle cx="327.42" cy="158.65" r="1.05"/><circle cx="328.94" cy="158.65" r="1.05"/><circle cx="330.47" cy="158.65" r="1.05"/><circle cx="331.99" cy="158.65" r="1.05"/><circle cx="333.51" cy="158.65" r="1.05"/><circle cx="335.03" cy="158.65" r="1.05"/><circle cx="336.56" cy="158.65" r="1.05"/><circle cx="338.08" cy="158.65" r="1.05"/><circle cx="339.6" cy="158.65" r="1.05"/><circle cx="342.5" cy="158.65" r="1.05"/><circle cx="344.22" cy="158.65" r="1.05"/><circle cx="345.94" cy="158.65" r="1.05"/><circle cx="347.66" cy="158.65" r="1.05"/><circle cx="349.38" cy="158.65" r="1.05"/><circle cx="351.1" cy="158.65" r="1.05"/><circle cx="353.7" cy="158.65" r="1.05"/><circle cx="355.33" cy="158.65" r="1.05"/><circle cx="356.97" cy="158.65" r="1.05"/><circle cx="358.6" cy="158.65" r="1.05"/><circle cx="360.23" cy="158.65" r="1.05"/><circle cx="361.87" cy="158.65" r="1.05"/><circle cx="363.5" cy="158.65" r="1.05"/><circle cx="366.9" cy="158.65" r="1.05"/><circle cx="368.5" cy="158.65" r="1.05"/><circle cx="370.1" cy="158.65" r="1.05"/><circle cx="372.7" cy="158.65" r="1.05"/><circle cx="374.3" cy="158.65" r="1.05"/><circle cx="377.7" cy="158.65" r="1.05"/><circle cx="379.7" cy="158.65" r="1.05"/><circle cx="383.0" cy="158.65" r="1.05"/><circle cx="384.61" cy="158.65" r="1.05"/><circle cx="386.23" cy="158.65" r="1.05"/><circle cx="387.84" cy="158.65" r="1.05"/><circle cx="389.45" cy="158.65" r="1.05"/><circle cx="391.07" cy="158.65" r="1.05"/><circle cx="392.68" cy="158.65" r="1.05"/><circle cx="394.29" cy="158.65" r="1.05"/><circle cx="395.9" cy="158.65" r="1.05"/><circle cx="397.52" cy="158.65" r="1.05"/><circle cx="399.13" cy="158.65" r="1.05"/><circle cx="400.74" cy="158.65" r="1.05"/><circle cx="402.36" cy="158.65" r="1.05"/><circle cx="403.97" cy="158.65" r="1.05"/><circle cx="405.58" cy="158.65" r="1.05"/><circle cx="407.2" cy="158.65" r="1.05"/><circle cx="408.81" cy="158.65" r="1.05"/><circle cx="410.42" cy="158.65" r="1.05"/><circle cx="412.03" cy="158.65" r="1.05"/><circle cx="413.65" cy="158.65" r="1.05"/><circle cx="415.26" cy="158.65" r="1.05"/><circle cx="416.87" cy="158.65" r="1.05"/><circle cx="418.49" cy="158.65" r="1.05"/><circle cx="420.1" cy="158.65" r="1.05"/><circle cx="422.7" cy="158.65" r="1.05"/><circle cx="424.33" cy="158.65" r="1.05"/><circle cx="425.96" cy="158.65" r="1.05"/><circle cx="427.59" cy="158.65" r="1.05"/><circle cx="429.22" cy="158.65" r="1.05"/><circle cx="430.85" cy="158.65" r="1.05"/><circle cx="432.48" cy="158.65" r="1.05"/><circle cx="434.11" cy="158.65" r="1.05"/><circle cx="435.74" cy="158.65" r="1.05"/><circle cx="437.37" cy="158.65" r="1.05"/><circle cx="439.0" cy="158.65" r="1.05"/><circle cx="440.63" cy="158.65" r="1.05"/><circle cx="442.26" cy="158.65" r="1.05"/><circle cx="443.89" cy="158.65" r="1.05"/><circle cx="445.52" cy="158.65" r="1.05"/><circle cx="447.15" cy="158.65" r="1.05"/><circle cx="448.78" cy="158.65" r="1.05"/><circle cx="450.41" cy="158.65" r="1.05"/><circle cx="452.04" cy="158.65" r="1.05"/><circle cx="453.67" cy="158.65" r="1.05"/><circle cx="455.3" cy="158.65" r="1.05"/><circle cx="458.4" cy="158.65" r="1.05"/><circle cx="460.08" cy="158.65" r="1.05"/><circle cx="461.77" cy="158.65" r="1.05"/><circle cx="463.45" cy="158.65" r="1.05"/><circle cx="465.13" cy="158.65" r="1.05"/><circle cx="466.82" cy="158.65" r="1.05"/><circle cx="468.5" cy="158.65" r="1.05"/><circle cx="471.0" cy="158.65" r="1.05"/><circle cx="473.0" cy="158.65" r="1.05"/><circle cx="475.0" cy="158.65" r="1.05"/><circle cx="478.95" cy="158.65" r="1.05"/><circle cx="484.9" cy="158.65" r="1.05"/><circle cx="486.5" cy="158.65" r="1.05"/><circle cx="488.1" cy="158.65" r="1.05"/><circle cx="490.7" cy="158.65" r="1.05"/><circle cx="492.3" cy="158.65" r="1.05"/><circle cx="493.9" cy="158.65" r="1.05"/><circle cx="495.5" cy="158.65" r="1.05"/><circle cx="497.1" cy="158.65" r="1.05"/><circle cx="498.7" cy="158.65" r="1.05"/><circle cx="500.3" cy="158.65" r="1.05"/><circle cx="351.4" cy="136.1" r="1.35"/><circle cx="368.7" cy="136.1" r="1.35"/><circle cx="370" cy="136.1" r="1.35"/><circle cx="373.9" cy="136.1" r="1.35"/><circle cx="377.4" cy="136.1" r="1.35"/><circle cx="394.5" cy="136.1" r="1.35"/><circle cx="397.3" cy="136.1" r="1.35"/><circle cx="404.4" cy="136.1" r="1.35"/><circle cx="422.3" cy="136.1" r="1.35"/><circle cx="428.8" cy="136.1" r="1.35"/><circle cx="430.3" cy="136.1" r="1.35"/><circle cx="431.9" cy="136.1" r="1.35"/><circle cx="433.5" cy="136.1" r="1.35"/><circle cx="437.2" cy="136.1" r="1.35"/><circle cx="440.7" cy="136.1" r="1.35"/><circle cx="446.7" cy="136.1" r="1.35"/><circle cx="448.3" cy="136.1" r="1.35"/><circle cx="449.9" cy="136.1" r="1.35"/><circle cx="454.2" cy="136.1" r="1.35"/><circle cx="461.6" cy="136.1" r="1.35"/><circle cx="495.3" cy="136.1" r="1.35"/><circle cx="495.3" cy="113.65" r="1.35"/><circle cx="321.1" cy="196.26" r="1.15"/><circle cx="324.2" cy="196.26" r="1.15"/><circle cx="329.9" cy="196.26" r="1.15"/><circle cx="334.1" cy="196.26" r="1.15"/><circle cx="336.1" cy="196.26" r="1.15"/><circle cx="339.9" cy="196.26" r="1.15"/><circle cx="342.9" cy="196.26" r="1.15"/><circle cx="344.2" cy="196.26" r="1.15"/><circle cx="348.8" cy="196.26" r="1.15"/><circle cx="357.2" cy="196.26" r="1.15"/><circle cx="363.4" cy="196.26" r="1.15"/><circle cx="364.8" cy="196.26" r="1.15"/><circle cx="366.2" cy="196.26" r="1.15"/><circle cx="368.7" cy="196.26" r="1.15"/><circle cx="370.5" cy="196.26" r="1.15"/><circle cx="373.7" cy="196.26" r="1.15"/><circle cx="375.7" cy="196.26" r="1.15"/><circle cx="377.7" cy="196.26" r="1.15"/><circle cx="379.7" cy="196.26" r="1.15"/><circle cx="383.0" cy="196.26" r="1.15"/><circle cx="384.77" cy="196.26" r="1.15"/><circle cx="386.53" cy="196.26" r="1.15"/><circle cx="388.3" cy="196.26" r="1.15"/><circle cx="390.07" cy="196.26" r="1.15"/><circle cx="391.83" cy="196.26" r="1.15"/><circle cx="393.6" cy="196.26" r="1.15"/><circle cx="397.7" cy="196.26" r="1.15"/><circle cx="399.35" cy="196.26" r="1.15"/><circle cx="401.0" cy="196.26" r="1.15"/><circle cx="402.65" cy="196.26" r="1.15"/><circle cx="404.3" cy="196.26" r="1.15"/><circle cx="405.95" cy="196.26" r="1.15"/><circle cx="407.6" cy="196.26" r="1.15"/><circle cx="409.25" cy="196.26" r="1.15"/><circle cx="410.9" cy="196.26" r="1.15"/><circle cx="414.7" cy="196.26" r="1.15"/><circle cx="416.85" cy="196.26" r="1.15"/><circle cx="419.0" cy="196.26" r="1.15"/><circle cx="422.75" cy="196.26" r="1.15"/><circle cx="426.5" cy="196.26" r="1.15"/><circle cx="428.27" cy="196.26" r="1.15"/><circle cx="430.05" cy="196.26" r="1.15"/><circle cx="431.82" cy="196.26" r="1.15"/><circle cx="433.59" cy="196.26" r="1.15"/><circle cx="435.37" cy="196.26" r="1.15"/><circle cx="437.14" cy="196.26" r="1.15"/><circle cx="438.91" cy="196.26" r="1.15"/><circle cx="440.69" cy="196.26" r="1.15"/><circle cx="442.46" cy="196.26" r="1.15"/><circle cx="444.23" cy="196.26" r="1.15"/><circle cx="446.01" cy="196.26" r="1.15"/><circle cx="447.78" cy="196.26" r="1.15"/><circle cx="449.55" cy="196.26" r="1.15"/><circle cx="451.33" cy="196.26" r="1.15"/><circle cx="453.1" cy="196.26" r="1.15"/><circle cx="457.7" cy="196.26" r="1.15"/><circle cx="459.5" cy="196.26" r="1.15"/><circle cx="461.3" cy="196.26" r="1.15"/><circle cx="463.1" cy="196.26" r="1.15"/><circle cx="466.7" cy="196.26" r="1.15"/><circle cx="468.57" cy="196.26" r="1.15"/><circle cx="470.43" cy="196.26" r="1.15"/><circle cx="472.3" cy="196.26" r="1.15"/><circle cx="475.6" cy="196.26" r="1.15"/><circle cx="477.3" cy="196.26" r="1.15"/><circle cx="480.3" cy="196.26" r="1.15"/><circle cx="483.8" cy="196.26" r="1.15"/><circle cx="489.1" cy="196.26" r="1.15"/><circle cx="490.9" cy="196.26" r="1.15"/><circle cx="492.7" cy="196.26" r="1.15"/><circle cx="494.5" cy="196.26" r="1.15"/><circle cx="496.3" cy="196.26" r="1.15"/><circle cx="498.1" cy="196.26" r="1.15"/><circle cx="349.1" cy="200.79" r="1.15"/><circle cx="350.0" cy="200.79" r="1.15"/><circle cx="354.55" cy="200.79" r="1.15"/><circle cx="361.5" cy="200.79" r="1.15"/><circle cx="376.9" cy="200.79" r="1.15"/><circle cx="378.85" cy="200.79" r="1.15"/><circle cx="380.8" cy="200.79" r="1.15"/><circle cx="385.4" cy="200.79" r="1.15"/><circle cx="389.9" cy="200.79" r="1.15"/><circle cx="397.8" cy="200.79" r="1.15"/><circle cx="403.8" cy="200.79" r="1.15"/><circle cx="408.3" cy="200.79" r="1.15"/><circle cx="422.8" cy="200.79" r="1.15"/><circle cx="430.2" cy="200.79" r="1.15"/><circle cx="432.02" cy="200.79" r="1.15"/><circle cx="433.84" cy="200.79" r="1.15"/><circle cx="435.66" cy="200.79" r="1.15"/><circle cx="437.48" cy="200.79" r="1.15"/><circle cx="439.3" cy="200.79" r="1.15"/><circle cx="444.9" cy="200.79" r="1.15"/><circle cx="446.35" cy="200.79" r="1.15"/><circle cx="447.8" cy="200.79" r="1.15"/><circle cx="451.1" cy="200.79" r="1.15"/><circle cx="453.5" cy="200.79" r="1.15"/><circle cx="459.2" cy="200.79" r="1.15"/><circle cx="463.9" cy="200.79" r="1.15"/><circle cx="469.75" cy="200.79" r="1.15"/><circle cx="489.9" cy="200.79" r="1.15"/><circle cx="491.62" cy="200.79" r="1.15"/><circle cx="493.35" cy="200.79" r="1.15"/><circle cx="495.07" cy="200.79" r="1.15"/><circle cx="496.8" cy="200.79" r="1.15"/><circle cx="348.2" cy="205.51999999999998" r="1.2"/><circle cx="357.3" cy="205.51999999999998" r="1.2"/><circle cx="370.4" cy="205.51999999999998" r="1.2"/><circle cx="394.4" cy="205.51999999999998" r="1.2"/><circle cx="437" cy="205.51999999999998" r="1.2"/><circle cx="438.5" cy="205.51999999999998" r="1.2"/><circle cx="453.9" cy="205.51999999999998" r="1.2"/><circle cx="462.7" cy="205.51999999999998" r="1.2"/><circle cx="374" cy="209.85" r="1.2"/><circle cx="392.8" cy="209.85" r="1.2"/><circle cx="399.5" cy="209.85" r="1.2"/><circle cx="439.1" cy="209.85" r="1.2"/><circle cx="463.1" cy="209.85" r="1.2"/><circle cx="319.4" cy="214.17999999999998" r="1.2"/><circle cx="401.7" cy="214.17999999999998" r="1.2"/><circle cx="436.3" cy="214.17999999999998" r="1.2"/><circle cx="442.2" cy="214.17999999999998" r="1.2"/><circle cx="445.5" cy="214.17999999999998" r="1.2"/><circle cx="446.8" cy="214.17999999999998" r="1.2"/><circle cx="451.2" cy="214.17999999999998" r="1.2"/><circle cx="467" cy="214.17999999999998" r="1.2"/><circle cx="479.2" cy="214.17999999999998" r="1.2"/><circle cx="495" cy="214.17999999999998" r="1.2"/><circle cx="432.2" cy="218.51" r="1.2"/><circle cx="344.2" cy="222.83999999999997" r="1.2"/><circle cx="395.8" cy="222.83999999999997" r="1.2"/><circle cx="399.6" cy="222.83999999999997" r="1.2"/><circle cx="436.3" cy="222.83999999999997" r="1.2"/><circle cx="501.8" cy="222.83999999999997" r="1.2"/><circle cx="435.9" cy="227.17" r="1.2"/><circle cx="450" cy="231.5" r="1.2"/><circle cx="447.8" cy="235.82999999999998" r="1.2"/><circle cx="320.8" cy="248.82" r="1.2"/><circle cx="369.7" cy="248.82" r="1.2"/><circle cx="493.9" cy="253.14999999999998" r="1.2"/><circle cx="460.5" cy="261.81" r="1.2"/><circle cx="403.9" cy="266.14" r="1.2"/><circle cx="432.6" cy="266.14" r="1.2"/><circle cx="455.6" cy="270.46999999999997" r="1.2"/><circle cx="370.1" cy="296.45" r="1.2"/></g>
<g style="filter:grayscale(1)"><text x="84.1" y="21.2" font-size="15" text-anchor="start" textLength="137.6" lengthAdjust="spacingAndGlyphs" >DNMT3A Mutations</text><text x="93.4" y="39.4" font-size="15" text-anchor="start" textLength="119.0" lengthAdjust="spacingAndGlyphs" >(912 amino acids)</text><text x="358.9" y="20.9" font-size="15" text-anchor="start" textLength="107.4" lengthAdjust="spacingAndGlyphs" >TET2 Mutations</text><text x="348.8" y="39.3" font-size="15" text-anchor="start" textLength="127.4" lengthAdjust="spacingAndGlyphs" >(2002 amino acids)</text><rect x="61.3" y="59.8" width="1.7" height="115.0" fill="#000" /><rect x="61.3" y="196.5" width="1.7" height="124.5" fill="#000" /><rect x="57.2" y="63.650000000000006" width="5" height="1.5" fill="#000" /><rect x="57.2" y="113.35" width="5" height="1.5" fill="#000" /><rect x="57.2" y="158.35" width="5" height="1.5" fill="#000" /><rect x="57.2" y="173.25" width="5" height="1.5" fill="#000" /><rect x="57.2" y="196.45" width="5" height="1.5" fill="#000" /><rect x="57.2" y="246.75" width="5" height="1.5" fill="#000" /><rect x="57.2" y="315.35" width="5" height="1.5" fill="#000" /><text x="52.6" y="68.5" font-size="13" text-anchor="end" >65</text><text x="52.6" y="118.1" font-size="13" text-anchor="end" >36</text><text x="52.6" y="163.6" font-size="13" text-anchor="end" >10</text><text x="52.6" y="178.5" font-size="13" text-anchor="end" >1</text><text x="52.6" y="201.0" font-size="13" text-anchor="end" >1</text><text x="52.6" y="251.7" font-size="13" text-anchor="end" >417</text><text x="52.6" y="320.2" font-size="13" text-anchor="end" >983</text><rect x="317.5" y="64.5" width="1.5" height="94.5" fill="#000" /><rect x="317.5" y="192.0" width="1.5" height="108.7" fill="#000" /><rect x="313.4" y="68.1" width="5" height="1.4" fill="#000" /><rect x="313.4" y="90.5" width="5" height="1.4" fill="#000" /><rect x="313.4" y="112.8" width="5" height="1.4" fill="#000" /><rect x="313.4" y="135.10000000000002" width="5" height="1.4" fill="#000" /><rect x="313.4" y="157.70000000000002" width="5" height="1.4" fill="#000" /><rect x="313.4" y="191.9" width="5" height="1.4" fill="#000" /><rect x="313.4" y="213.0" width="5" height="1.4" fill="#000" /><rect x="313.4" y="221.9" width="5" height="1.4" fill="#000" /><rect x="313.4" y="247.8" width="5" height="1.4" fill="#000" /><rect x="313.4" y="265.5" width="5" height="1.4" fill="#000" /><rect x="313.4" y="295.6" width="5" height="1.4" fill="#000" /><text x="308.8" y="73.2" font-size="13" text-anchor="end" >5</text><text x="308.8" y="95.6" font-size="13" text-anchor="end" >4</text><text x="308.8" y="118.0" font-size="13" text-anchor="end" >3</text><text x="308.8" y="140.3" font-size="13" text-anchor="end" >2</text><text x="308.8" y="162.2" font-size="13" text-anchor="end" >1</text><text x="308.8" y="196.2" font-size="13" text-anchor="end" >1</text><text x="308.8" y="218.2" font-size="13" text-anchor="end" >6</text><text x="308.8" y="228.1" font-size="13" text-anchor="end" >8</text><text x="308.8" y="253.0" font-size="13" text-anchor="end" >14</text><text x="308.8" y="270.7" font-size="13" text-anchor="end" >18</text><text x="308.8" y="300.8" font-size="13" text-anchor="end" >25</text><text x="73.3" y="83.1" font-size="13" text-anchor="start" textLength="16.2" lengthAdjust="spacingAndGlyphs" >CH</text><text x="329.6" y="83.3" font-size="13" text-anchor="start" textLength="16.4" lengthAdjust="spacingAndGlyphs" >CH</text><text x="75.6" y="313.8" font-size="12.4" text-anchor="start" textLength="66.2" lengthAdjust="spacingAndGlyphs" >MDS &amp; AML</text><text x="331.2" y="313.8" font-size="12.4" text-anchor="start" textLength="65.2" lengthAdjust="spacingAndGlyphs" >MDS &amp; AML</text><text x="208.9" y="67.7" font-size="12.4" text-anchor="start" textLength="26.2" lengthAdjust="spacingAndGlyphs" >R882</text><text x="208.9" y="318.7" font-size="12.4" text-anchor="start" textLength="26.2" lengthAdjust="spacingAndGlyphs" >R882</text><text transform="translate(22.5,228) rotate(-90)" style="stroke-width:0.05px" font-size="14.5" textLength="75.4" lengthAdjust="spacingAndGlyphs"># of mutations</text><text transform="translate(286,227.7) rotate(-90)" style="stroke-width:0.05px" font-size="14.5" textLength="75" lengthAdjust="spacingAndGlyphs"># of mutations</text></g>
<rect x="0" y="0" width="520" height="1.2" fill="#000"/>
<rect x="0" y="0" width="1.3" height="331" fill="#000"/>
<rect x="518.2" y="0" width="1.8" height="331" fill="#000"/>
<rect x="0" y="328.9" width="520" height="2.1" fill="#000"/>
</svg></body></html>
